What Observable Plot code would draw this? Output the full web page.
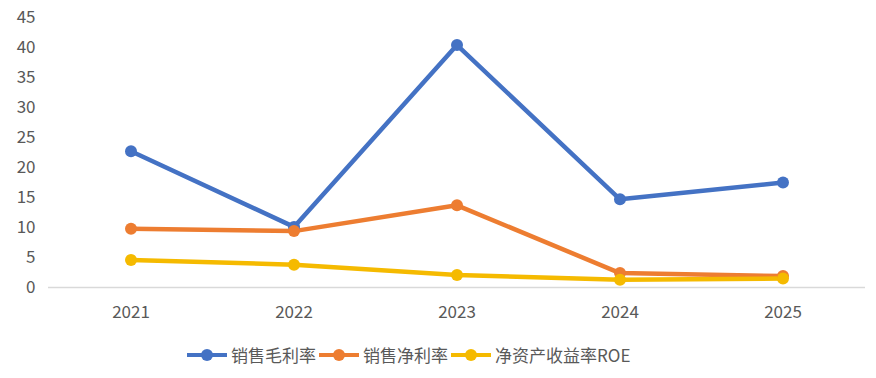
<!DOCTYPE html>
<html><head><meta charset="utf-8">
<script src="https://cdn.jsdelivr.net/npm/d3@7"></script>
<script src="https://cdn.jsdelivr.net/npm/@observablehq/plot@0.6"></script>
<style>
body{margin:0;background:#fff;width:876px;height:378px;overflow:hidden;font-family:"Noto Sans CJK SC","Noto Sans",sans-serif;}
#chart{position:absolute;left:0;top:0;}
#legend{position:absolute;top:342px;left:187px;display:flex;align-items:center;font-size:17px;color:#595959;white-space:nowrap;}
.item{display:flex;align-items:center;margin-right:3px;}
.sw{position:relative;width:40px;height:20px;margin-right:4px;}
.sw .ln{position:absolute;left:0;right:0;top:8px;height:4px;}
.sw .dt{position:absolute;left:14px;top:4px;width:12px;height:12px;border-radius:50%;}
</style></head>
<body>
<div id="chart"></div>
<div id="legend"></div>
<script>
const years = ["2021","2022","2023","2024","2025"];
const seriesNames = ["销售毛利率","销售净利率","净资产收益率ROE"];
const grossMargin = [22.7, 10.1, 40.4, 14.7, 17.5];
const netMargin = [9.8, 9.4, 13.7, 2.4, 1.9];
const roe = [4.6, 3.8, 2.1, 1.3, 1.5];
const colors = ["#4472C4","#ED7D31","#F5BA00"];
const yTicks = [0,5,10,15,20,25,30,35,40,45];

const allSeries = [grossMargin, netMargin, roe];
const data = [];
allSeries.forEach((vals, si) => vals.forEach((v, i) => data.push({year: years[i], value: v, series: seriesNames[si]})));

const chart = Plot.plot({
  width: 876, height: 330,
  marginTop: 17, marginBottom: 43, marginLeft: 48, marginRight: 11,
  style: {fontFamily: "'Noto Sans CJK SC','Noto Sans',sans-serif", fontSize: "17px", color: "#595959", background: "#fff"},
  x: {type: "band", domain: years, padding: 0, label: null},
  y: {domain: [0, 45], label: null},
  color: {domain: seriesNames, range: colors},
  marks: [
    Plot.ruleY([0], {stroke: "#d9d9d9", strokeWidth: 1.5}),
    Plot.axisY({ticks: yTicks, tickSize: 0, tickPadding: 13, label: null, fill: "#595959", fontSize: 17}),
    Plot.axisX({tickSize: 0, tickPadding: 18, label: null, fill: "#595959", fontSize: 17}),
    Plot.line(data, {x: "year", y: "value", stroke: "series", strokeWidth: 4.5, z: "series"}),
    Plot.dot(data, {x: "year", y: "value", fill: "series", r: 6})
  ]
});
document.getElementById("chart").appendChild(chart);

const legend = document.getElementById("legend");
seriesNames.forEach((n, i) => {
  const it = document.createElement("div"); it.className = "item";
  it.innerHTML = `<div class="sw"><div class="ln" style="background:${colors[i]}"></div><div class="dt" style="background:${colors[i]}"></div></div><span>${n}</span>`;
  legend.appendChild(it);
});
</script>
</body></html>
